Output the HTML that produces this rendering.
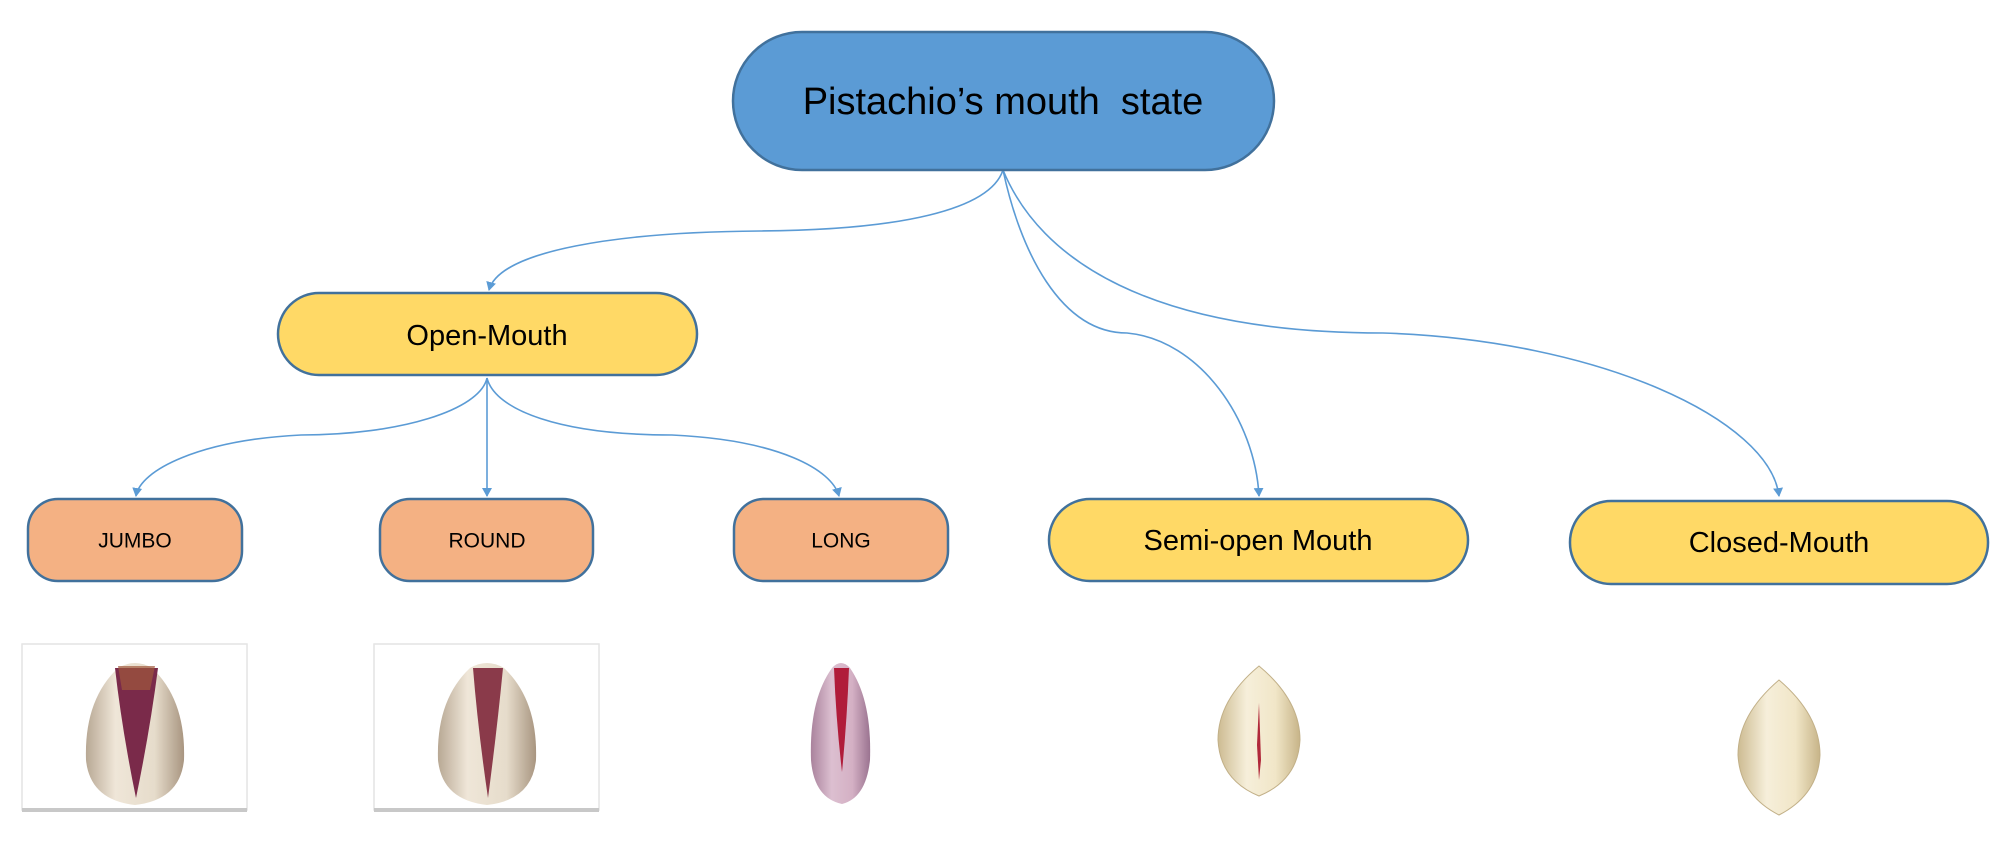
<!DOCTYPE html>
<html><head><meta charset="utf-8"><style>
html,body{margin:0;padding:0;background:#fff;}
svg{display:block;}
text{font-family:"Liberation Sans",sans-serif;fill:#000;text-anchor:middle;dominant-baseline:central;}
</style></head><body>
<svg width="2008" height="858" viewBox="0 0 2008 858" xmlns="http://www.w3.org/2000/svg">
<defs>
<marker id="a" markerWidth="10" markerHeight="10" refX="8" refY="5" orient="auto" markerUnits="userSpaceOnUse">
<path d="M0,0 L9,5 L0,10 Z" fill="#5b9bd5"/></marker>
<linearGradient id="shell" x1="0" x2="1"><stop offset="0" stop-color="#b8a894"/><stop offset="0.3" stop-color="#efe6d8"/><stop offset="0.7" stop-color="#e6dccb"/><stop offset="1" stop-color="#a89580"/></linearGradient>
<linearGradient id="pink" x1="0" x2="1"><stop offset="0" stop-color="#a9829c"/><stop offset="0.35" stop-color="#dcbfd0"/><stop offset="0.7" stop-color="#d4b0c4"/><stop offset="1" stop-color="#9a7390"/></linearGradient>
<linearGradient id="cream" x1="0" x2="1"><stop offset="0" stop-color="#cdbb92"/><stop offset="0.35" stop-color="#f6efda"/><stop offset="0.7" stop-color="#f1e6c8"/><stop offset="1" stop-color="#c7b488"/></linearGradient>
</defs>
<g fill="none" stroke="#5b9bd5" stroke-width="1.6">
<path d="M1003,170 C990,210 900,230 760,231 C620,232 500,250 489,290" marker-end="url(#a)"/>
<path d="M1003,170 C1020,250 1060,333 1127,333 C1200,340 1255,420 1259,496" marker-end="url(#a)"/>
<path d="M1003,170 C1040,260 1150,333 1383,333 C1600,340 1770,420 1779,496" marker-end="url(#a)"/>
<path d="M487,378 C480,410 400,435 301,435 C200,440 140,470 136,496" marker-end="url(#a)"/>
<path d="M487,378 L487,496" marker-end="url(#a)"/>
<path d="M487,378 C495,410 560,435 672,435 C780,440 832,470 839,496" marker-end="url(#a)"/>
</g>
<g stroke="#41719c" stroke-width="2.5">
<rect x="733" y="32" width="541" height="138" rx="69" fill="#5b9bd5"/>
<rect x="278" y="293" width="419" height="82" rx="41" fill="#ffd966"/>
<rect x="28" y="499" width="214" height="82" rx="30" fill="#f4b183"/>
<rect x="380" y="499" width="213" height="82" rx="30" fill="#f4b183"/>
<rect x="734" y="499" width="214" height="82" rx="30" fill="#f4b183"/>
<rect x="1049" y="499" width="419" height="82" rx="41" fill="#ffd966"/>
<rect x="1570" y="501" width="418" height="83" rx="41" fill="#ffd966"/>
</g>
<text x="1003" y="102" font-size="38">Pistachio’s mouth &#160;state</text>
<text x="487" y="336" font-size="29">Open-Mouth</text>
<text x="135" y="541" font-size="21">JUMBO</text>
<text x="487" y="541" font-size="21">ROUND</text>
<text x="841" y="541" font-size="21">LONG</text>
<text x="1258" y="541" font-size="29">Semi-open Mouth</text>
<text x="1779" y="543" font-size="29">Closed-Mouth</text>
<rect x="22" y="644" width="225" height="166" fill="#fff" stroke="#e4e4e4" stroke-width="1.5"/>
<rect x="22" y="808" width="225" height="4" fill="#c8c8c8"/>
<rect x="374" y="644" width="225" height="166" fill="#fff" stroke="#e4e4e4" stroke-width="1.5"/>
<rect x="374" y="808" width="225" height="4" fill="#c8c8c8"/>
<path d="M118,668 Q135,658 152,668 Q186,700 184,760 Q180,800 135,805 Q90,800 86,760 Q84,700 118,668 Z" fill="url(#shell)"/>
<path d="M115,668 L158,668 Q150,730 136,798 Q122,730 115,668 Z" fill="#7a2a4a"/>
<path d="M118,666 L155,666 L150,690 L122,690 Z" fill="#a0583c" opacity="0.7"/>
<path d="M470,668 Q487,658 504,668 Q538,700 536,760 Q532,800 487,805 Q442,800 438,760 Q436,700 470,668 Z" fill="url(#shell)"/>
<path d="M473,668 L503,668 Q497,730 488,798 Q478,730 473,668 Z" fill="#8a3a4a"/>
<path d="M832,668 Q841,658 850,668 Q872,700 870,760 Q866,798 842,804 Q814,798 811,760 Q809,700 832,668 Z" fill="url(#pink)"/>
<path d="M834,668 L849,668 Q847,720 842,772 Q836,720 834,668 Z" fill="#b01c3a"/>
<path d="M1259,666 Q1300,700 1300,740 Q1298,780 1259,796 Q1220,780 1218,740 Q1218,700 1259,666 Z" fill="url(#cream)" stroke="#c2b088" stroke-width="1"/>
<path d="M1259,703 L1261,760 L1259,780 L1257,745 Z" fill="#b0283a"/>
<path d="M1779,680 Q1820,715 1820,755 Q1818,795 1779,815 Q1740,795 1738,755 Q1738,715 1779,680 Z" fill="url(#cream)" stroke="#c2b088" stroke-width="1"/>
</svg>
</body></html>
